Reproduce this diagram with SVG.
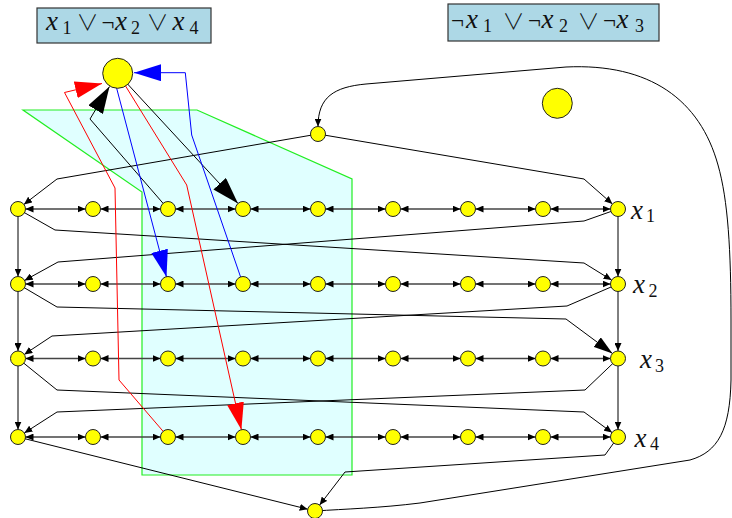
<svg xmlns="http://www.w3.org/2000/svg" width="732" height="518" viewBox="0 0 732 518">
<defs>
<style>
.bg{fill:#ffffff}
.region{fill:#e0ffff;stroke:#22ee22;stroke-width:1.2}
.box{fill:#add8e6;stroke:#333333;stroke-width:1.2}
.nd{fill:#ffff00;stroke:#222222;stroke-width:1}
.h{fill:none;stroke:#444444;stroke-width:1.5;marker-start:url(#sm);marker-end:url(#sm)}
.ka{fill:none;stroke:#000000;stroke-width:1;marker-end:url(#sm)}
.r{fill:none;stroke:#ff0000;stroke-width:1;marker-end:url(#bigr)}
.b{fill:none;stroke:#0000ff;stroke-width:1;marker-end:url(#bigb)}
.kb{fill:none;stroke:#000000;stroke-width:1;marker-end:url(#bigk)}
.km{fill:none;stroke:#000000;stroke-width:1;marker-end:url(#med)}
.mx{font-family:"Liberation Serif","DejaVu Serif",serif;font-style:italic;font-size:27px;fill:#111111}
.ms{font-family:"Liberation Serif","DejaVu Serif",serif;font-style:normal;font-size:18px;fill:#111111}
.mo{font-family:"Noto Sans CJK JP","DejaVu Sans",sans-serif;font-style:normal;font-weight:300;font-size:22px;fill:#111111}
.mn{font-family:"Liberation Serif","DejaVu Serif",serif;font-style:normal;font-size:23px;fill:#111111}
.sp{font-size:4px}
</style>
<marker id="sm" markerUnits="userSpaceOnUse" markerWidth="8" markerHeight="7" refX="8" refY="3.5" orient="auto-start-reverse"><path d="M0,0 L8,3.5 L0,7 z" fill="#000000"/></marker>
<marker id="med" markerUnits="userSpaceOnUse" markerWidth="19" markerHeight="12" refX="19" refY="6" orient="auto"><path d="M0,0 L19,6 L0,12 z" fill="#000000"/></marker>
<marker id="bigk" markerUnits="userSpaceOnUse" markerWidth="27" markerHeight="17" refX="27" refY="8.5" orient="auto"><path d="M0,0 L27,8.5 L0,17 z" fill="#000000"/></marker>
<marker id="bigr" markerUnits="userSpaceOnUse" markerWidth="27" markerHeight="17" refX="27" refY="8.5" orient="auto"><path d="M0,0 L27,8.5 L0,17 z" fill="#ff0000"/></marker>
<marker id="bigb" markerUnits="userSpaceOnUse" markerWidth="27" markerHeight="17" refX="27" refY="8.5" orient="auto"><path d="M0,0 L27,8.5 L0,17 z" fill="#0000ff"/></marker>
</defs>
<rect class="bg" x="0" y="0" width="732" height="518"/>
<polygon id="region" class="region" points="23,110 197,110 352,179 352,475 142,475 142,192"/>

<g id="connectors">
<path class="h" d="M25.5,209 H85.5"/><path class="h" d="M100.5,209 H160.5"/><path class="h" d="M175.5,209 H235.5"/><path class="h" d="M250.5,209 H310.5"/><path class="h" d="M325.5,209 H385.5"/><path class="h" d="M400.5,209 H460.5"/><path class="h" d="M475.5,209 H535.5"/><path class="h" d="M550.5,209 H610.5"/>
<path class="h" d="M25.5,284 H85.5"/><path class="h" d="M100.5,284 H160.5"/><path class="h" d="M175.5,284 H235.5"/><path class="h" d="M250.5,284 H310.5"/><path class="h" d="M325.5,284 H385.5"/><path class="h" d="M400.5,284 H460.5"/><path class="h" d="M475.5,284 H535.5"/><path class="h" d="M550.5,284 H610.5"/>
<path class="h" d="M25.5,358.5 H85.5"/><path class="h" d="M100.5,358.5 H160.5"/><path class="h" d="M175.5,358.5 H235.5"/><path class="h" d="M250.5,358.5 H310.5"/><path class="h" d="M325.5,358.5 H385.5"/><path class="h" d="M400.5,358.5 H460.5"/><path class="h" d="M475.5,358.5 H535.5"/><path class="h" d="M550.5,358.5 H610.5"/>
<path class="h" d="M25.5,437 H85.5"/><path class="h" d="M100.5,437 H160.5"/><path class="h" d="M175.5,437 H235.5"/><path class="h" d="M250.5,437 H310.5"/><path class="h" d="M325.5,437 H385.5"/><path class="h" d="M400.5,437 H460.5"/><path class="h" d="M475.5,437 H535.5"/><path class="h" d="M550.5,437 H610.5"/>
<path class="ka" d="M18,216 V276.5"/><path class="ka" d="M18,291 V351"/><path class="ka" d="M18,366 V429.5"/>
<path class="ka" d="M618,216 V276.5"/><path class="ka" d="M618,291 V351"/><path class="ka" d="M618,366 V429.5"/>
<path class="ka" d="M318,134 L57,179 L23.9,204.4"/>
<path class="ka" d="M318,134 L584,179 L612.4,204"/>
<path class="ka" d="M18,209 L55,230 L584,263 L611.6,280.1"/>
<path class="ka" d="M618,209 L584,221 L58,262 L24.6,280.4"/>
<path class="km" d="M18,284 L57,307 L566,319 L612.5,353.5"/>
<path class="ka" d="M618,284 L567,306 L52,336 L24.3,354.4"/>
<path class="ka" d="M18,358.5 L57,390 L584,412 L612,432.6"/>
<path class="ka" d="M618,358.5 L585,390 L57,412 L24.3,433"/>
<path class="ka" d="M18,437 L307.7,509.2"/>
<path class="ka" d="M618,437 L605,455 L345,472 L319.6,505.1"/>
<path class="ka" d="M315,511 C345,509 380,508 420,503 L690,460 C718,452 730,430 731,380 L731,320 C731,250 728,200 718,165 C700,100 650,63 566,67 L366,84 C334,87 318,97 318,126.5"/>
<path class="kb" d="M117.7,73.3 L238,203.5"/>
<path class="kb" d="M168,209 L90,119 L109.5,86.5"/>
<path class="r" d="M168,437 L119,380 L115,188 L64.5,92.5 L102,83.5"/>
<path class="r" d="M117.7,73.3 L186.7,185 L241.4,429.7"/>
<path class="b" d="M115,82 L166.5,277"/>
<path class="b" d="M243,284 L191.7,135 L185.3,72.7 L134,72.7"/>
</g>

<g id="clause1-label"><rect class="box" x="37" y="8" width="174" height="35"/>
<text><tspan class="mx" x="46" y="30">x</tspan><tspan class="ms" x="62.5" y="34">1 </tspan><tspan class="mo" x="76.5" y="30">∨<tspan class="sp"> </tspan></tspan><tspan class="mn" x="101.5" y="30">¬</tspan><tspan class="mx" x="115" y="30">x</tspan><tspan class="ms" x="131" y="34">2 </tspan><tspan class="mo" x="146.5" y="30">∨<tspan class="sp"> </tspan></tspan><tspan class="mx" x="172.5" y="30">x</tspan><tspan class="ms" x="189.5" y="34">4</tspan></text></g>
<g id="clause2-label"><rect class="box" x="448" y="4" width="211" height="37"/>
<text><tspan class="mn" x="451" y="28">¬</tspan><tspan class="mx" x="466" y="28">x</tspan><tspan class="ms" x="483" y="32">1 </tspan><tspan class="mo" x="502.5" y="28.5">∨<tspan class="sp"> </tspan></tspan><tspan class="mn" x="528" y="28">¬</tspan><tspan class="mx" x="541.5" y="28">x</tspan><tspan class="ms" x="559" y="32">2 </tspan><tspan class="mo" x="577.5" y="28.5">∨<tspan class="sp"> </tspan></tspan><tspan class="mn" x="603" y="28">¬</tspan><tspan class="mx" x="616.5" y="28">x</tspan><tspan class="ms" x="635" y="32">3</tspan></text></g>

<g id="clause1"><circle class="nd" cx="117.7" cy="73.3" r="15"/></g>
<g id="clause2"><circle class="nd" cx="557.3" cy="103.3" r="15"/></g>
<g id="s"><circle class="nd" cx="318" cy="134" r="7.5"/></g>
<g id="t"><circle class="nd" cx="315" cy="511" r="7.5"/></g>

<g id="r1c1"><circle class="nd" cx="18" cy="209" r="7.5"/></g>
<g id="r1c2"><circle class="nd" cx="93" cy="209" r="7.5"/></g>
<g id="r1c3"><circle class="nd" cx="168" cy="209" r="7.5"/></g>
<g id="r1c4"><circle class="nd" cx="243" cy="209" r="7.5"/></g>
<g id="r1c5"><circle class="nd" cx="318" cy="209" r="7.5"/></g>
<g id="r1c6"><circle class="nd" cx="393" cy="209" r="7.5"/></g>
<g id="r1c7"><circle class="nd" cx="468" cy="209" r="7.5"/></g>
<g id="r1c8"><circle class="nd" cx="543" cy="209" r="7.5"/></g>
<g id="r1c9"><circle class="nd" cx="618" cy="209" r="7.5"/></g>
<g id="r2c1"><circle class="nd" cx="18" cy="284" r="7.5"/></g>
<g id="r2c2"><circle class="nd" cx="93" cy="284" r="7.5"/></g>
<g id="r2c3"><circle class="nd" cx="168" cy="284" r="7.5"/></g>
<g id="r2c4"><circle class="nd" cx="243" cy="284" r="7.5"/></g>
<g id="r2c5"><circle class="nd" cx="318" cy="284" r="7.5"/></g>
<g id="r2c6"><circle class="nd" cx="393" cy="284" r="7.5"/></g>
<g id="r2c7"><circle class="nd" cx="468" cy="284" r="7.5"/></g>
<g id="r2c8"><circle class="nd" cx="543" cy="284" r="7.5"/></g>
<g id="r2c9"><circle class="nd" cx="618" cy="284" r="7.5"/></g>
<g id="r3c1"><circle class="nd" cx="18" cy="358.5" r="7.5"/></g>
<g id="r3c2"><circle class="nd" cx="93" cy="358.5" r="7.5"/></g>
<g id="r3c3"><circle class="nd" cx="168" cy="358.5" r="7.5"/></g>
<g id="r3c4"><circle class="nd" cx="243" cy="358.5" r="7.5"/></g>
<g id="r3c5"><circle class="nd" cx="318" cy="358.5" r="7.5"/></g>
<g id="r3c6"><circle class="nd" cx="393" cy="358.5" r="7.5"/></g>
<g id="r3c7"><circle class="nd" cx="468" cy="358.5" r="7.5"/></g>
<g id="r3c8"><circle class="nd" cx="543" cy="358.5" r="7.5"/></g>
<g id="r3c9"><circle class="nd" cx="618" cy="358.5" r="7.5"/></g>
<g id="r4c1"><circle class="nd" cx="18" cy="437" r="7.5"/></g>
<g id="r4c2"><circle class="nd" cx="93" cy="437" r="7.5"/></g>
<g id="r4c3"><circle class="nd" cx="168" cy="437" r="7.5"/></g>
<g id="r4c4"><circle class="nd" cx="243" cy="437" r="7.5"/></g>
<g id="r4c5"><circle class="nd" cx="318" cy="437" r="7.5"/></g>
<g id="r4c6"><circle class="nd" cx="393" cy="437" r="7.5"/></g>
<g id="r4c7"><circle class="nd" cx="468" cy="437" r="7.5"/></g>
<g id="r4c8"><circle class="nd" cx="543" cy="437" r="7.5"/></g>
<g id="r4c9"><circle class="nd" cx="618" cy="437" r="7.5"/></g>

<g id="labels">
<text><tspan class="mx" x="631" y="218.5">x</tspan><tspan class="ms" x="646" y="222">1</tspan></text>
<text><tspan class="mx" x="633" y="293">x</tspan><tspan class="ms" x="648.5" y="296.5">2</tspan></text>
<text><tspan class="mx" x="640" y="368">x</tspan><tspan class="ms" x="655" y="371.5">3</tspan></text>
<text><tspan class="mx" x="634.5" y="446.5">x</tspan><tspan class="ms" x="650" y="450">4</tspan></text>
</g>
</svg>
